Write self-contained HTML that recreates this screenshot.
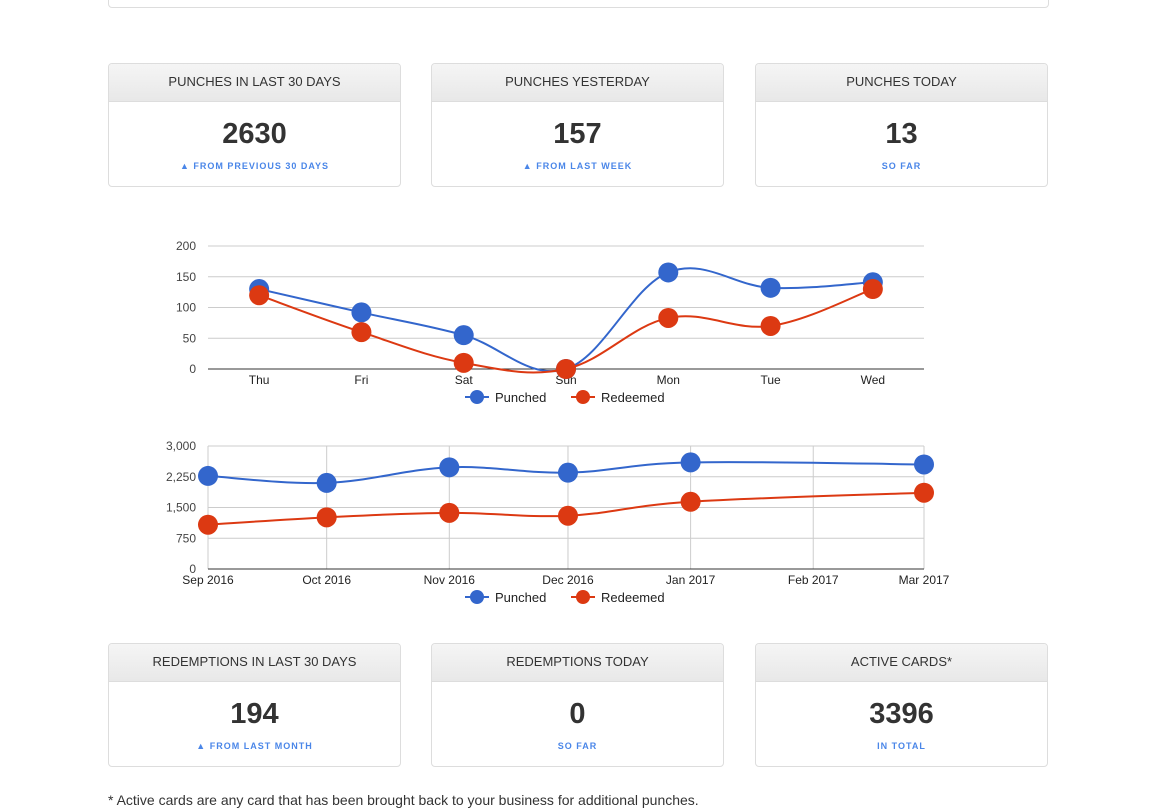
<!DOCTYPE html>
<html><head><meta charset="utf-8">
<style>
body{margin:0;width:1157px;height:799px;overflow:hidden;background:#fff;font-family:"Liberation Sans",Arial,sans-serif;position:relative}
.topcard{position:absolute;left:108px;top:-10px;width:939px;height:16px;border:1px solid #ddd;border-radius:4px}
.card{position:absolute;width:291px;height:122px;border:1px solid #ddd;border-radius:4px;overflow:hidden;background:#fff}
.card .hd{height:37px;border-bottom:1px solid #ddd;background:linear-gradient(#f5f5f5,#e8e8e8);text-align:center;line-height:35px;font-size:13px;color:#333}
.card .num{text-align:center;font-size:29px;font-weight:bold;color:#333;margin-top:15px;line-height:34px}
.card .sub{text-align:center;font-size:9px;font-weight:bold;color:#4a86e8;letter-spacing:1px;margin-top:10px}
svg{position:absolute;left:0;top:0}
.foot{position:absolute;left:108px;top:792px;font-size:14px;color:#333}
</style></head><body>
<div class="topcard"></div>

<div class="card" style="left:108px;top:63px"><div class="hd">PUNCHES IN LAST 30 DAYS</div><div class="num">2630</div><div class="sub">▲ FROM PREVIOUS 30 DAYS</div></div>
<div class="card" style="left:431px;top:63px"><div class="hd">PUNCHES YESTERDAY</div><div class="num">157</div><div class="sub">▲ FROM LAST WEEK</div></div>
<div class="card" style="left:755px;top:63px"><div class="hd">PUNCHES TODAY</div><div class="num">13</div><div class="sub">SO FAR</div></div>

<div class="card" style="left:108px;top:643px"><div class="hd">REDEMPTIONS IN LAST 30 DAYS</div><div class="num">194</div><div class="sub">▲ FROM LAST MONTH</div></div>
<div class="card" style="left:431px;top:643px"><div class="hd">REDEMPTIONS TODAY</div><div class="num">0</div><div class="sub">SO FAR</div></div>
<div class="card" style="left:755px;top:643px"><div class="hd">ACTIVE CARDS*</div><div class="num">3396</div><div class="sub">IN TOTAL</div></div>

<div class="foot">* Active cards are any card that has been brought back to your business for additional punches.</div>

<svg id="chart" width="1157" height="799"></svg>
<script>
const weekDays=["Thu","Fri","Sat","Sun","Mon","Tue","Wed"];
const weekPunched=[130,92,55,0,157,132,141];
const weekRedeemed=[120,60,10,0,83,70,130];
const weekTicks=[0,50,100,150,200];
const monthDates=["2016-09-01","2016-10-01","2016-11-01","2016-12-01","2017-01-01","2017-03-01"];
const monthPunched=[2270,2100,2480,2350,2600,2550];
const monthRedeemed=[1080,1260,1370,1300,1640,1860];
const monthTicks=[0,750,1500,2250,3000];
const monthTickLabels=["0","750","1,500","2,250","3,000"];
const monthAxisDates=["2016-09-01","2016-10-01","2016-11-01","2016-12-01","2017-01-01","2017-02-01","2017-03-01"];
const monthAxisLabels=["Sep 2016","Oct 2016","Nov 2016","Dec 2016","Jan 2017","Feb 2017","Mar 2017"];

const NS="http://www.w3.org/2000/svg";
const svg=document.getElementById('chart');
function mk(t,a,txt){const e=document.createElementNS(NS,t);for(const k in a)e.setAttribute(k,a[k]);if(txt!==undefined)e.textContent=txt;svg.appendChild(e);return e;}
const BLUE="#3366cc",RED="#dc3912";
function smooth(pts){let d="M"+pts[0][0]+","+pts[0][1];for(let i=0;i<pts.length-1;i++){const p0=pts[i-1]||pts[i],p1=pts[i],p2=pts[i+1],p3=pts[i+2]||p2;const t=0.18;d+=" C"+(p1[0]+(p2[0]-p0[0])*t)+","+(p1[1]+(p2[1]-p0[1])*t)+" "+(p2[0]-(p3[0]-p1[0])*t)+","+(p2[1]-(p3[1]-p1[1])*t)+" "+p2[0]+","+p2[1];}return d;}
function legend(y){
 const items=[["Punched",BLUE,465],["Redeemed",RED,571]];
 items.forEach(([n,c,x])=>{
  const l=mk('line',{x1:x,x2:x+24,y1:y,y2:y,stroke:c,'stroke-width':2});
  
  const ci=mk('circle',{cx:x+12,cy:y,r:7,fill:c});
  
  const t=mk('text',{x:x+30,y:y+5,'font-size':13,fill:'#222'},n);
  
 });
}
function series(pts,c,name){
 const p=mk('path',{d:smooth(pts),fill:'none',stroke:c,'stroke-width':2});
 
 pts.forEach(q=>{const ci=mk('circle',{cx:q[0],cy:q[1],r:10,fill:c});
  });
}
// chart 1
const L=208,R=924;
const y1=v=>369-v/200*123;
const x1=i=>L+(i+0.5)*(R-L)/weekDays.length;
weekTicks.forEach(v=>{
 const g=mk('line',{x1:L,x2:R,y1:y1(v),y2:y1(v),stroke:v===0?'#333':'#ccc','stroke-width':1});
 
 const t=mk('text',{x:L-12,y:y1(v)+4,'font-size':12,fill:'#444','text-anchor':'end'},String(v));
 
});
weekDays.forEach((d,i)=>{const t=mk('text',{x:x1(i),y:384,'font-size':12,fill:'#222','text-anchor':'middle'},d);
 });
series(weekPunched.map((v,i)=>[x1(i),y1(v)]),BLUE,'week-punched');
series(weekRedeemed.map((v,i)=>[x1(i),y1(v)]),RED,'week-redeemed');
legend(397);
// chart 2
const t0=Date.parse(monthAxisDates[0]),t1=Date.parse(monthAxisDates[monthAxisDates.length-1]);
const x2=d=>L+(Date.parse(d)-t0)/(t1-t0)*(R-L);
const y2=v=>569-v/3000*123;
monthTicks.forEach((v,i)=>{
 const g=mk('line',{x1:L,x2:R,y1:y2(v),y2:y2(v),stroke:v===0?'#333':'#ccc','stroke-width':1});
 
 const t=mk('text',{x:L-12,y:y2(v)+4,'font-size':12,fill:'#444','text-anchor':'end'},monthTickLabels[i]);
 
});
monthAxisDates.forEach((d,i)=>{
 const g=mk('line',{x1:x2(d),x2:x2(d),y1:446,y2:569,stroke:'#ccc','stroke-width':1});
 
 const t=mk('text',{x:x2(d),y:584,'font-size':12,fill:'#222','text-anchor':'middle'},monthAxisLabels[i]);
 
});
mk('line',{x1:L,x2:R,y1:569,y2:569,stroke:'#333'});
series(monthPunched.map((v,i)=>[x2(monthDates[i]),y2(v)]),BLUE,'month-punched');
series(monthRedeemed.map((v,i)=>[x2(monthDates[i]),y2(v)]),RED,'month-redeemed');
legend(597);
</script>
</body></html>
